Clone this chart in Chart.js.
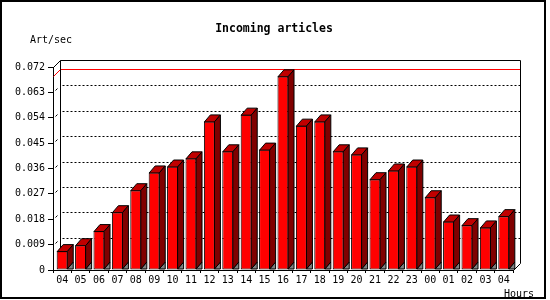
<!DOCTYPE html>
<html><head><meta charset="utf-8">
<script src="https://cdn.jsdelivr.net/npm/chart.js@4/dist/chart.umd.min.js"></script>
<style>html,body{margin:0;padding:0;background:#fff}canvas{display:block}</style>
</head><body>
<canvas id="c" width="550" height="300"></canvas>
<script>
const hours = ['04','05','06','07','08','09','10','11','12','13','14','15','16','17','18','19','20','21','22','23','00','01','02','03','04'];
const artPerSec = [0.0067,0.0088,0.0138,0.0205,0.0283,0.0346,0.0367,0.0396,0.0527,0.0421,0.0551,0.0427,0.0687,0.0512,0.0527,0.0421,0.0410,0.0322,0.0353,0.0367,0.0258,0.0172,0.0159,0.0151,0.0191];
const yTicks = [0,0.009,0.018,0.027,0.036,0.045,0.054,0.063,0.072];
const titleText = 'Incoming articles';
const yUnit = 'Art/sec';
const xUnit = 'Hours';

const MONO = "'DejaVu Sans Mono', 'Liberation Mono', monospace";
Chart.defaults.font.family = MONO;
Chart.defaults.font.size = 10;
Chart.defaults.color = '#000';

const DX = 6, DY = 7;   // bar depth
const WX = 7, WY = 7;   // back wall offset

function poly(ctx, pts, fill){
  ctx.beginPath();
  ctx.moveTo(pts[0][0], pts[0][1]);
  for (let i = 1; i < pts.length; i++) ctx.lineTo(pts[i][0], pts[i][1]);
  ctx.closePath();
  ctx.fillStyle = fill; ctx.fill();
  ctx.strokeStyle = '#000'; ctx.lineWidth = 1; ctx.stroke();
}

const threeD = {
  id: 'threeD',
  beforeDatasetsDraw(chart){
    const {ctx, chartArea: a, scales: {y}} = chart;
    const L = a.left + 0.5, R = a.right + 0.5, T = a.top + 0.5, B = a.bottom + 0.5;
    ctx.save();
    ctx.lineWidth = 1;
    // dotted grid lines on back wall
    ctx.strokeStyle = '#000';
    yTicks.forEach(v => {
      if (v === 0 || v === yTicks[yTicks.length - 1]) return;
      const py = Math.round(y.getPixelForValue(v)) + 0.5;
      ctx.setLineDash([2, 2]);
      ctx.beginPath(); ctx.moveTo(L + WX + 2, py - WY); ctx.lineTo(R + WX, py - WY); ctx.stroke();
      ctx.setLineDash([]);
      ctx.beginPath(); ctx.moveTo(L + 2, py - 2); ctx.lineTo(L + 4, py - 4); ctx.stroke();
    });
    // max line (red)
    const maxV = Math.max(...artPerSec);
    const my = Math.round(y.getPixelForValue(maxV)) + 0.5;
    ctx.strokeStyle = '#ff0000';
    ctx.beginPath(); ctx.moveTo(L, my); ctx.lineTo(L + WX, my - WY); ctx.lineTo(R + WX, my - WY); ctx.stroke();
    // back wall outline
    ctx.strokeStyle = '#000';
    ctx.beginPath();
    ctx.moveTo(L, T); ctx.lineTo(L + WX, T - WY);
    ctx.lineTo(R + WX, T - WY); ctx.lineTo(R + WX, B - WY); ctx.lineTo(R, B);
    ctx.moveTo(L + WX, T - WY); ctx.lineTo(L + WX, B - WY);
    ctx.stroke();
    ctx.restore();
  },
  afterDatasetsDraw(chart){
    const {ctx} = chart;
    const meta = chart.getDatasetMeta(0);
    ctx.save();
    meta.data.forEach(bar => {
      const p = bar.getProps(['x', 'y', 'base', 'width'], true);
      const x1 = p.x - p.width / 2 + 0.5, x2 = p.x + p.width / 2 - 0.5;
      const yt = p.y + 0.5, yb = p.base - 0.5;
      poly(ctx, [[x2, yb], [x2 + DX, yb - DY], [x2 + DX, yb]], '#808080');
      poly(ctx, [[x1, yt], [x1 + DX, yt - DY], [x2 + DX, yt - DY], [x2, yt]], '#c00000');
      poly(ctx, [[x2, yt], [x2 + DX, yt - DY], [x2 + DX, yb - DY], [x2, yb]], '#800000');
    });
    ctx.restore();
  },
  afterDraw(chart){
    const {ctx} = chart;
    ctx.save();
    ctx.fillStyle = '#000';
    ctx.textBaseline = 'alphabetic';
    ctx.font = "bold 11.5px " + MONO;
    ctx.textAlign = 'center';
    ctx.fillText(titleText, 274, 32);
    ctx.font = "10px " + MONO;
    ctx.textAlign = 'left';
    ctx.fillText(yUnit, 30, 42.5);
    ctx.fillText(xUnit, 504, 296.5);
    ctx.strokeStyle = '#000';
    ctx.lineWidth = 2;
    ctx.strokeRect(1, 1, 544, 297);
    ctx.restore();
  }
};

new Chart(document.getElementById('c'), {
  type: 'bar',
  data: {
    labels: hours,
    datasets: [{
      data: artPerSec,
      backgroundColor: '#ff0000',
      borderColor: '#000',
      borderWidth: 1,
      borderSkipped: false,
      barPercentage: 0.6,
      categoryPercentage: 1.0
    }]
  },
  options: {
    responsive: false,
    animation: false,
    devicePixelRatio: 1,
    layout: { padding: { top: 67, right: 37, bottom: 0, left: 0 } },
    plugins: { legend: { display: false }, tooltip: { enabled: false }, title: { display: false } },
    scales: {
      x: {
        offset: true,
        grid: { offset: true, drawOnChartArea: false, drawTicks: true, tickLength: 3, color: '#000' },
        border: { display: true, color: '#000' },
        ticks: { padding: 1, maxRotation: 0, autoSkip: false, color: '#000', font: { family: MONO, size: 10 } },
        afterFit(s){ s.height = 30; }
      },
      y: {
        min: 0, max: 0.072,
        afterBuildTicks(s){ s.ticks = yTicks.map(v => ({ value: v })); },
        grid: { drawOnChartArea: false, drawTicks: true, tickLength: 5, color: '#000' },
        border: { display: true, color: '#000' },
        ticks: { padding: 3, color: '#000', font: { family: MONO, size: 10 },
          callback: v => v === 0 ? '0' : v.toFixed(3) },
        afterFit(s){ s.width = 53; }
      }
    }
  },
  plugins: [threeD]
});
</script>
</body></html>
